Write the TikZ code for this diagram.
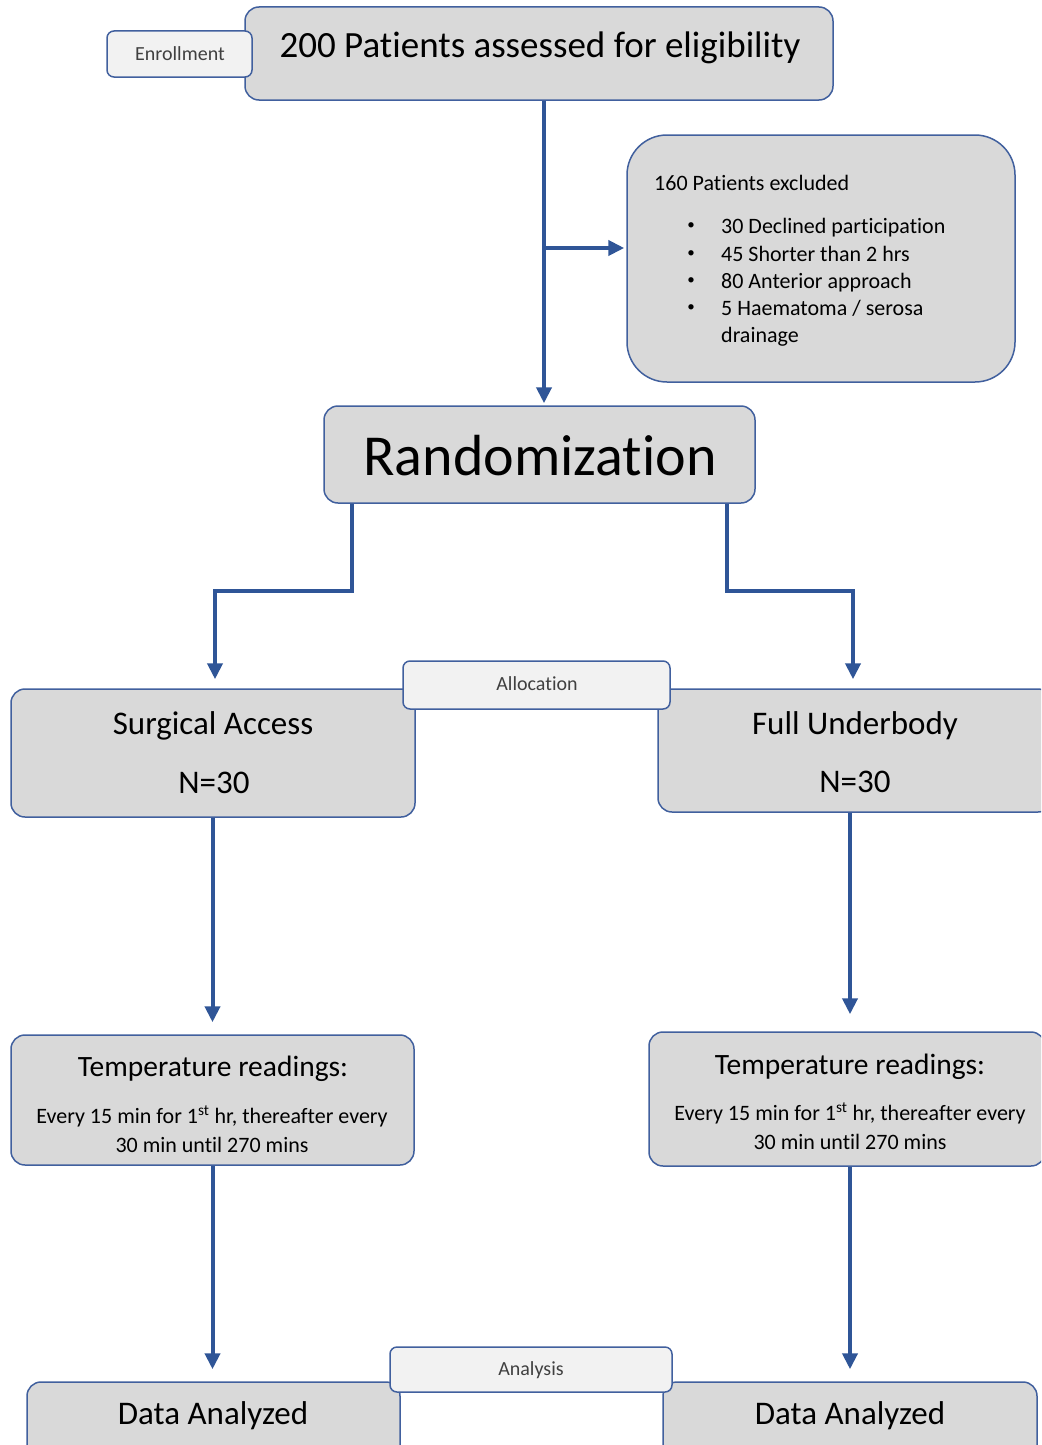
\documentclass[tikz,border=0pt]{standalone}
\usepackage{fontspec}
\setmainfont{Carlito}[Ligatures=NoCommon]
\usetikzlibrary{arrows.meta}
\definecolor{boxfill}{HTML}{D9D9D9}
\definecolor{lblfill}{HTML}{F2F2F2}
\definecolor{boxline}{HTML}{41609E}
\definecolor{arrline}{HTML}{2F5597}
\newcommand{\fs}[1]{\fontsize{#1}{#1}\selectfont}
\begin{document}
\begin{tikzpicture}[x=1pt,y=-1pt,
  box/.style={draw=boxline, line width=1.5pt, fill=boxfill, rounded corners=14pt, inner sep=0pt},
  lbl/.style={draw=boxline, line width=1.5pt, fill=lblfill, rounded corners=7pt, inner sep=0pt},
  arr/.style={draw=arrline, line width=4pt, -{Triangle[length=16pt,width=15pt]}},
  txt/.style={anchor=base, inner sep=0pt, text=black},
  bul/.style={anchor=center, inner sep=0pt, font=\fs{15}},
  ]
\useasboundingbox (0,0) rectangle (1041,1445);
\clip (0,0) rectangle (1041,1445);
\fill[white] (0,0) rectangle (1041,1445);

% boxes
\node[box, minimum width=588pt, minimum height=93pt] (top) at (539,53.5) {};
\node[lbl, minimum width=145pt, minimum height=46pt] (enroll) at (179.5,54) {};
\node[box, rounded corners=40pt, minimum width=388pt, minimum height=247pt] (exc) at (821,258.5) {};
\node[box, minimum width=431pt, minimum height=97pt] (rand) at (539.5,454.5) {};
\node[box, minimum width=404pt, minimum height=128pt] (sa) at (213,753) {};
\node[box, minimum width=394pt, minimum height=123pt] (fu) at (855,750.5) {};
\node[lbl, minimum width=267pt, minimum height=48pt] (alloc) at (536.5,685) {};
\node[box, minimum width=403pt, minimum height=130pt] (tl) at (212.5,1100) {};
\node[box, minimum width=396pt, minimum height=134pt] (tr) at (847,1099) {};
\node[box, minimum width=373pt, minimum height=78pt] (dl) at (213.5,1421) {};
\node[box, minimum width=374pt, minimum height=78pt] (dr) at (850,1421) {};
\node[lbl, minimum width=282pt, minimum height=45pt] (anal) at (531,1369.5) {};

% texts
\node[txt, font=\fs{37}] (toptxt) at (540,57.5) {200 Patients assessed for eligibility};
\node[txt, font=\fs{20}, text=black!75] (enrolltxt) at (180,60) {Enrollment};
\node[txt, font=\fs{22}, anchor=base west] (exct) at (654,190) {160 Patients excluded};
\node[bul] (b1) at (691,226) {\textbullet};
\node[bul] (b2) at (691,254) {\textbullet};
\node[bul] (b3) at (691,281) {\textbullet};
\node[bul] (b4) at (691,308) {\textbullet};
\node[txt, font=\fs{22}, anchor=base west] (e1) at (721,233) {30 Declined participation};
\node[txt, font=\fs{22}, anchor=base west] (e2) at (721,261) {45 Shorter than 2 hrs};
\node[txt, font=\fs{22}, anchor=base west] (e3) at (721,288) {80 Anterior approach};
\node[txt, font=\fs{22}, anchor=base west] (e4) at (721,315) {5 Haematoma / serosa};
\node[txt, font=\fs{22}, anchor=base west] (e5) at (721,342) {drainage};
\node[txt, font=\fs{58}] (randtxt) at (540,475.5) {Randomization};
\node[txt, font=\fs{20}, text=black!75] (alloctxt) at (537,690) {Allocation};
\node[txt, font=\fs{33}] (sat) at (213,734) {Surgical Access};
\node[txt, font=\fs{33}] (san) at (214,793) {N=30};
\node[txt, font=\fs{33}] (fut) at (855,734) {Full Underbody};
\node[txt, font=\fs{33}] (fun) at (855,792) {N=30};
\node[txt, font=\fs{29.5}] (tlt) at (213,1076) {Temperature readings:};
\node[txt, font=\fs{22}] (tl1) at (212,1123) {Every 15 min for 1\textsuperscript{st} hr, thereafter every};
\node[txt, font=\fs{22}] (tl2) at (212,1152) {30 min until 270 mins};
\node[txt, font=\fs{29.5}] (trt) at (850,1074) {Temperature readings:};
\node[txt, font=\fs{22}] (tr1) at (850,1120) {Every 15 min for 1\textsuperscript{st} hr, thereafter every};
\node[txt, font=\fs{22}] (tr2) at (850,1149) {30 min until 270 mins};
\node[txt, font=\fs{20}, text=black!75] (analtxt) at (531,1375) {Analysis};
\node[txt, font=\fs{33}] (dlt) at (213,1424) {Data Analyzed};
\node[txt, font=\fs{33}] (drt) at (850,1424) {Data Analyzed};

% connectors
\coordinate (j) at (544,248);
\coordinate (rl) at (352,591);
\coordinate (rr) at (727,591);
\coordinate (fx) at (850,0);
\draw[arr, shorten >=2pt] (top.south -| j) -- (rand.north -| j);
\draw[arr, shorten >=2pt] (j) -- (j -| exc.west);
\draw[arr, shorten >=9pt] (rand.south -| rl) -- (rl) -| ([xshift=2pt]sa.north);
\draw[arr, shorten >=9pt] (rand.south -| rr) -- (rr) -| ([xshift=-2pt]fu.north);
\draw[arr, shorten >=12pt] (sa.south -| tl.north) -- (tl.north);
\draw[arr, shorten >=17pt] (fu.south -| fx) -- (tr.north -| fx);
\draw[arr, shorten >=12pt] (tl.south) -- (tl.south |- dl.north);
\draw[arr, shorten >=12pt] (tr.south -| dr.north) -- (dr.north);
\end{tikzpicture}
\end{document}
